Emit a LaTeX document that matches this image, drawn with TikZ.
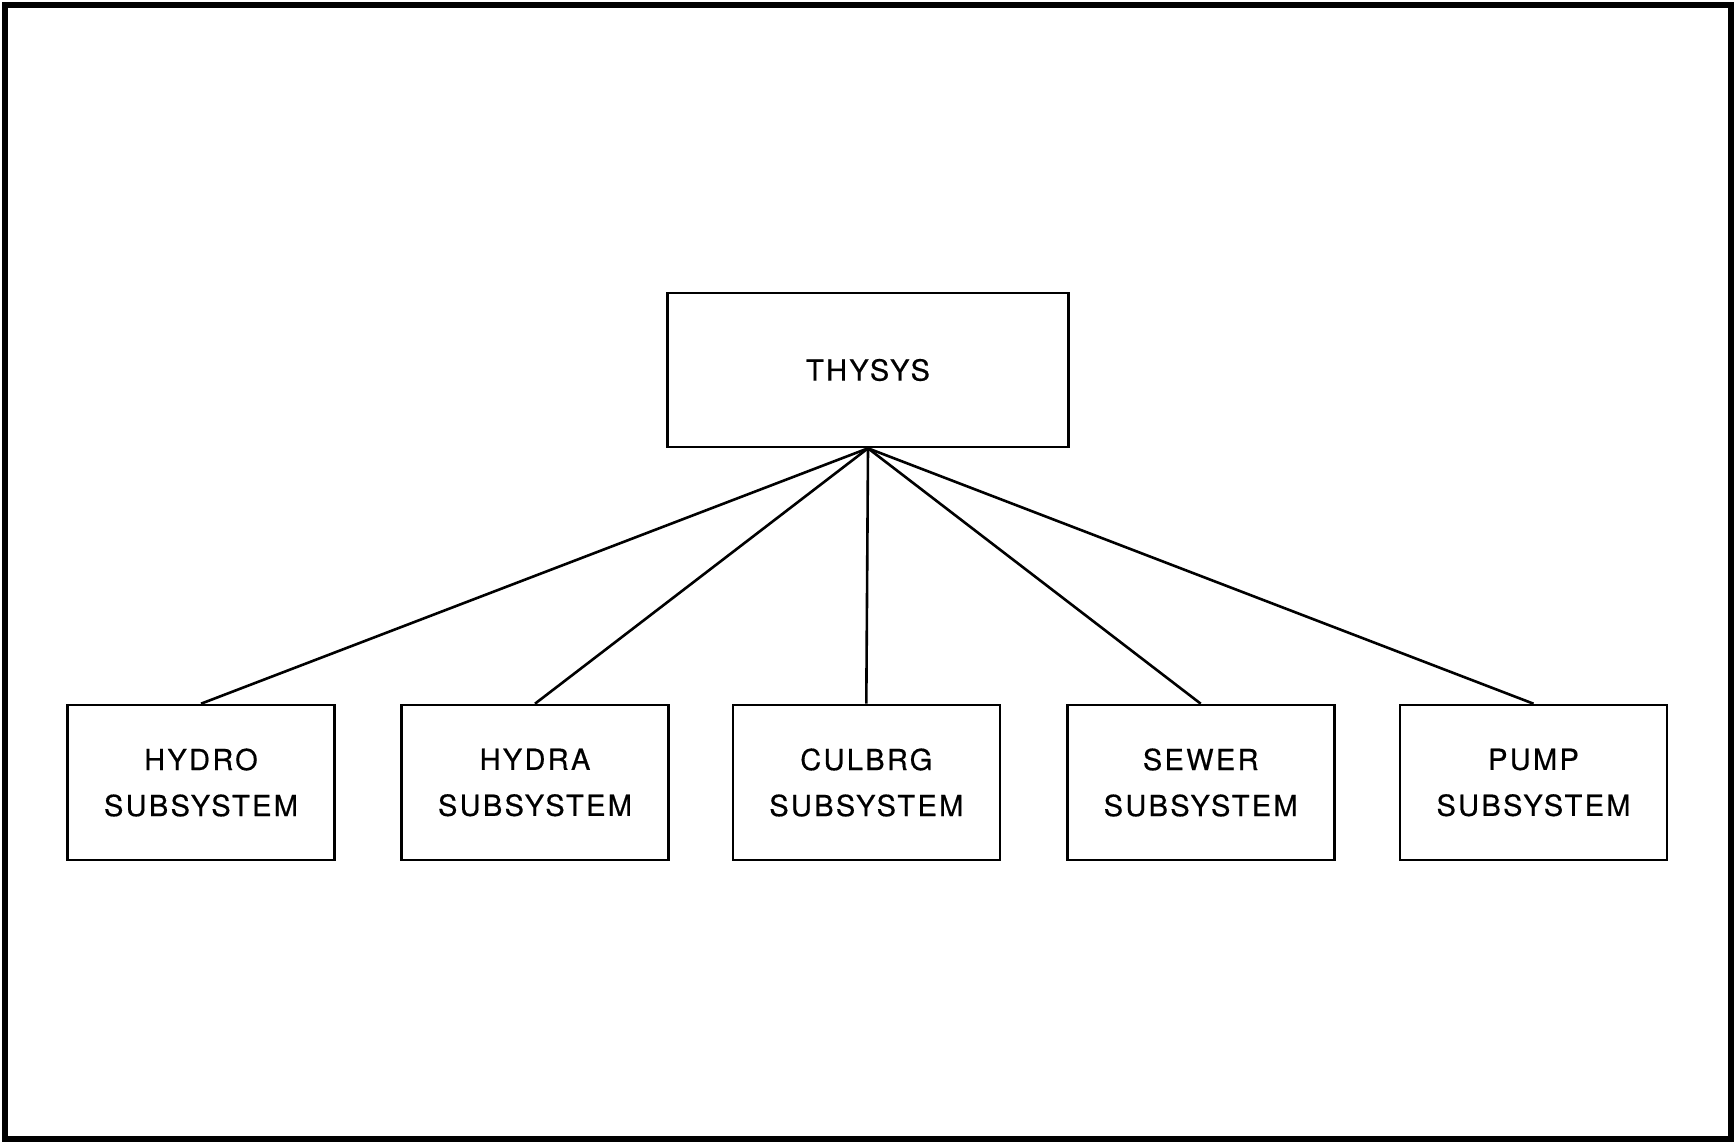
\documentclass[tikz,border=0pt]{standalone}
\usepackage{fontspec}
\setmainfont{TeX Gyre Heros}[LetterSpace=8,FakeBold=0.5]
\begin{document}
\begin{tikzpicture}[x=1pt,y=-1pt,
  box/.style={draw,line width=2.6pt,inner sep=0pt,align=center,
    font=\fontsize{29}{46}\selectfont},
  parent/.style={box,minimum width=401pt,minimum height=154pt},
  child/.style={box,minimum width=267pt,minimum height=155pt},
  link/.style={line width=2.6pt}]
\useasboundingbox (0,0) rectangle (1736,1144);
\draw[line width=5.5pt] (5,5) rectangle (1731,1139);
\node[parent] (top) at (868,370) {THYSYS};
\node[child] (hydro) at (201,782.5) {HYDRO\\SUBSYSTEM};
\node[child] (hydra) at (535,782.5) {HYDRA\\SUBSYSTEM};
\node[child] (culbrg) at (866.3,782.5) {CULBRG\\SUBSYSTEM};
\node[child] (sewer) at (1200.7,782.5) {SEWER\\SUBSYSTEM};
\node[child] (pump) at (1533.5,782.5) {PUMP\\SUBSYSTEM};
\foreach \c in {hydro,hydra,culbrg,sewer,pump}
  \draw[link] (top.south) -- (\c.north);
\end{tikzpicture}
\end{document}
